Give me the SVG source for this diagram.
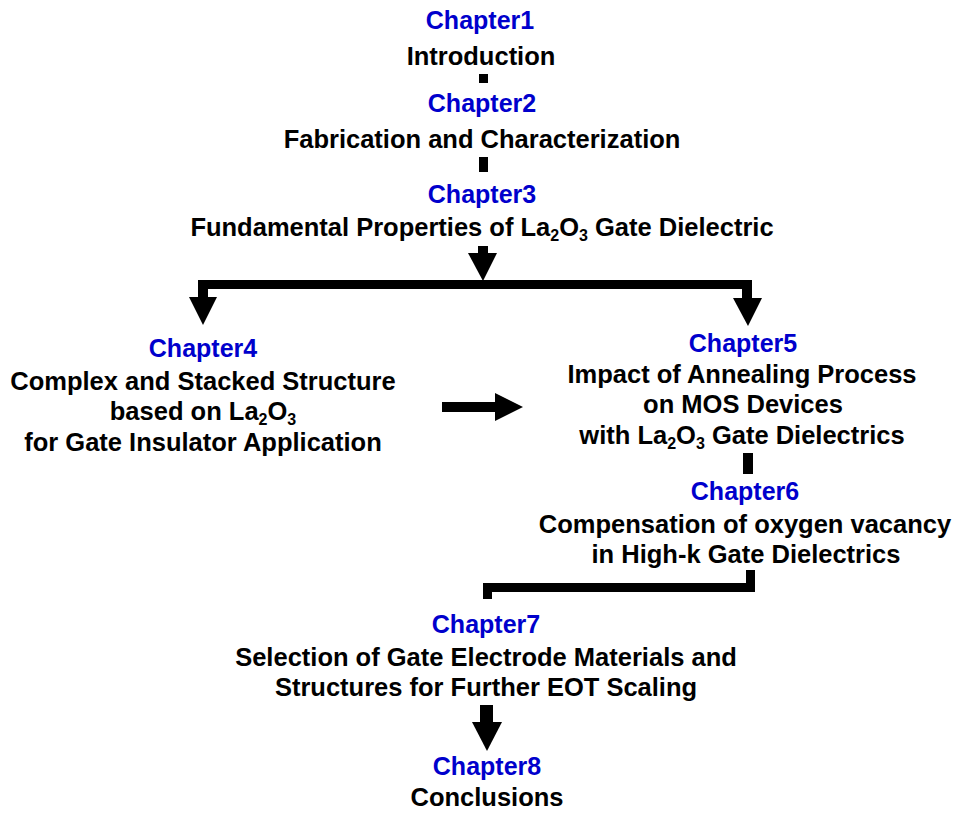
<svg xmlns="http://www.w3.org/2000/svg" width="960" height="814" viewBox="0 0 960 814">
<style>
text{font-family:"Liberation Sans",Arial,sans-serif;font-weight:bold;font-size:25.5px;text-anchor:middle}
.ch{fill:#0000CC;font-size:25px}
.t{fill:#000}
.sub{font-size:16px}
.c{fill:#000}
</style>
<rect width="960" height="814" fill="#fff"/>
<g id="ch1"><text class="ch" x="480" y="29">Chapter1</text><text class="t" x="481" y="65">Introduction</text></g>
<g id="ch2"><text class="ch" x="482" y="112">Chapter2</text><text class="t" x="482" y="148">Fabrication and Characterization</text></g>
<g id="ch3"><text class="ch" x="482" y="203">Chapter3</text><text class="t" x="482" y="236">Fundamental Properties of La<tspan class="sub" dy="5">2</tspan><tspan dy="-5">O</tspan><tspan class="sub" dy="5">3</tspan><tspan dy="-5"> Gate Dielectric</tspan></text></g>
<g id="ch4"><text class="ch" x="203" y="357">Chapter4</text><text class="t" x="203" y="390">Complex and Stacked Structure</text><text class="t" x="203" y="420">based on La<tspan class="sub" dy="5">2</tspan><tspan dy="-5">O</tspan><tspan class="sub" dy="5">3</tspan></text><text class="t" x="203" y="451">for Gate Insulator Application</text></g>
<g id="ch5"><text class="ch" x="743" y="352">Chapter5</text><text class="t" x="742" y="383">Impact of Annealing Process</text><text class="t" x="743" y="413">on MOS Devices</text><text class="t" x="742" y="444">with La<tspan class="sub" dy="5">2</tspan><tspan dy="-5">O</tspan><tspan class="sub" dy="5">3</tspan><tspan dy="-5"> Gate Dielectrics</tspan></text></g>
<g id="ch6"><text class="ch" x="745" y="500">Chapter6</text><text class="t" x="745" y="533">Compensation of oxygen vacancy</text><text class="t" x="746" y="563">in High-k Gate Dielectrics</text></g>
<g id="ch7"><text class="ch" x="486" y="633">Chapter7</text><text class="t" x="486" y="666">Selection of Gate Electrode Materials and</text><text class="t" x="486" y="696">Structures for Further EOT Scaling</text></g>
<g id="ch8"><text class="ch" x="487" y="775">Chapter8</text><text class="t" x="487" y="806">Conclusions</text></g>
<g id="connectors" class="c">
<rect x="479" y="74" width="9" height="9"/>
<rect x="479" y="157" width="9" height="15"/>
<rect x="478" y="246" width="10" height="8"/>
<polygon points="468,253 497,253 483,281"/>
<rect x="198" y="280" width="554" height="9"/>
<rect x="198" y="280" width="10" height="18"/>
<polygon points="189,297 217,297 203,325"/>
<rect x="742" y="280" width="10" height="19"/>
<polygon points="733,298 762,298 748,326"/>
<rect x="442" y="402" width="54" height="10"/>
<polygon points="495,393 495,421 523,407"/>
<rect x="743" y="453" width="10" height="21"/>
<path d="M746,570H755V592H492V599H483V583H746Z"/>
<rect x="480" y="705" width="13" height="18"/>
<polygon points="472,722 502,722 487,751"/>
</g>
</svg>
